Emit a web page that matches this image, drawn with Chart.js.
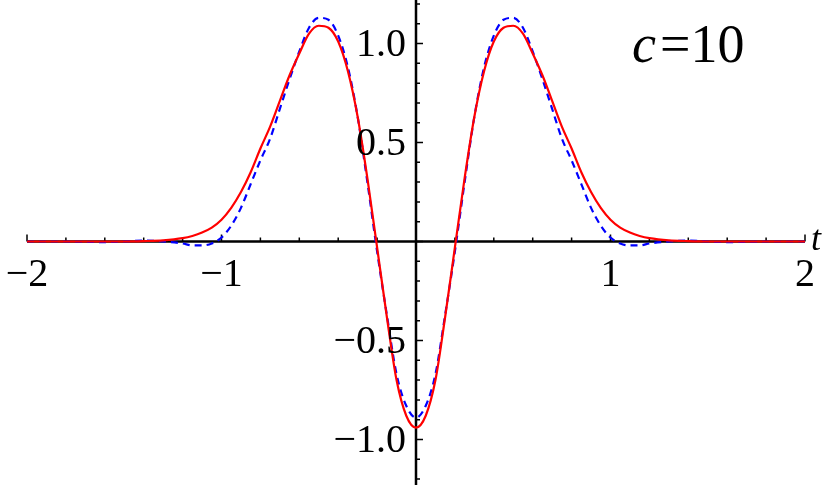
<!DOCTYPE html>
<html>
<head>
<meta charset="utf-8">
<script src="https://cdn.jsdelivr.net/npm/chart.js@4"></script>
<style>
html, body { margin: 0; padding: 0; background: #fff; }
#wrap { width: 830px; height: 485px; }
</style>
</head>
<body>
<div id="wrap"><canvas id="chart" width="830" height="485"></canvas></div>
<script>
const tValues = [-2.0,-1.8,-1.6,-1.5,-1.4,-1.3,-1.2,-1.15,-1.1,-1.05,-1.0,-0.95,-0.9,-0.85,-0.8,-0.75,-0.7,-0.65,-0.6,-0.55,-0.5,-0.45,-0.4,-0.35,-0.3,-0.25,-0.2,-0.15,-0.1,-0.05,
  0,0.05,0.1,0.15,0.2,0.25,0.3,0.35,0.4,0.45,0.5,0.55,0.6,0.65,0.7,0.75,0.8,0.85,0.9,0.95,1.0,1.05,1.1,1.15,1.2,1.3,1.4,1.5,1.6,1.8,2.0];
const redValues = [0,0,0,0,0.002,0.006,0.017,0.028,0.045,0.07,0.11,0.17,0.25,0.35,0.47,0.58,0.71,0.84,0.95,1.05,1.09,1.08,1.01,0.86,0.63,0.32,-0.03,-0.38,-0.70,-0.88,
  -0.94,-0.88,-0.70,-0.38,-0.03,0.32,0.63,0.86,1.01,1.08,1.09,1.05,0.95,0.84,0.71,0.58,0.47,0.35,0.25,0.17,0.11,0.07,0.045,0.028,0.017,0.006,0.002,0,0,0,0];
const blueValues = [0,0,-0.003,0,0.005,0,-0.01,-0.02,-0.02,-0.01,0.02,0.08,0.17,0.29,0.41,0.52,0.67,0.82,0.96,1.08,1.13,1.12,1.04,0.88,0.63,0.30,-0.05,-0.37,-0.67,-0.83,
  -0.89,-0.83,-0.67,-0.37,-0.05,0.30,0.63,0.88,1.04,1.12,1.13,1.08,0.96,0.82,0.67,0.52,0.41,0.29,0.17,0.08,0.02,-0.01,-0.02,-0.02,-0.01,0,0.005,0,-0.003,0,0];
const xTickLabels = [[-2,'\u22122'],[-1,'\u22121'],[1,'1'],[2,'2']];
const yTickLabels = [[1.0,'1.0'],[0.5,'0.5'],[-0.5,'\u22120.5'],[-1.0,'\u22121.0']];

const serif = '"Liberation Serif", "DejaVu Serif", serif';

function pts(ys) {
  return tValues.map((t, i) => ({x: t, y: ys[i]}));
}

// axes through the origin, drawn under the curves
const axesPlugin = {
  id: 'axes',
  beforeDatasetsDraw(chart) {
    const c = chart.ctx;
    const xs = chart.scales.x, ys = chart.scales.y;
    const x0 = xs.getPixelForValue(0), y0 = ys.getPixelForValue(0);
    c.save();
    c.strokeStyle = '#000';
    c.lineWidth = 2.5;
    c.beginPath();
    c.moveTo(xs.getPixelForValue(-2), y0);
    c.lineTo(xs.getPixelForValue(2), y0);
    c.moveTo(x0, chart.chartArea.top);
    c.lineTo(x0, chart.chartArea.bottom);
    c.stroke();
    c.lineWidth = 1.5;
    c.beginPath();
    for (let k = -10; k <= 10; k++) {
      const px = xs.getPixelForValue(k * 0.2);
      const len = (k % 5 === 0) ? 7 : 4;
      c.moveTo(px, y0); c.lineTo(px, y0 - len);
    }
    for (let k = -12; k <= 12; k++) {
      const py = ys.getPixelForValue(k * 0.1);
      const len = (k % 5 === 0) ? 7 : 4;
      c.moveTo(x0, py); c.lineTo(x0 + len, py);
    }
    c.stroke();
    c.restore();
  },
  afterDatasetsDraw(chart) {
    const c = chart.ctx;
    const xs = chart.scales.x, ys = chart.scales.y;
    const x0 = xs.getPixelForValue(0), y0 = ys.getPixelForValue(0);
    c.save();
    c.fillStyle = '#000';
    c.font = '40px ' + serif;
    c.textAlign = 'center';
    c.textBaseline = 'top';
    xTickLabels.forEach(([v, s]) => c.fillText(s, xs.getPixelForValue(v), y0 + 14));
    c.textAlign = 'right';
    c.textBaseline = 'middle';
    yTickLabels.forEach(([v, s]) => c.fillText(s, x0 - 10, ys.getPixelForValue(v) + 2));
    c.font = 'italic 36px ' + serif;
    c.textAlign = 'left';
    c.textBaseline = 'alphabetic';
    c.fillText('t', xs.getPixelForValue(2) + 6, y0 + 8);
    c.font = 'italic 54px ' + serif;
    c.fillText('c', 632, 62);
    c.font = '54px ' + serif;
    c.fillText('=10', 660, 62);
    c.restore();
  }
};

new Chart(document.getElementById('chart'), {
  type: 'scatter',
  data: {
    datasets: [
      { data: pts(redValues), showLine: true, borderColor: '#ff0000', borderWidth: 2.2,
        pointRadius: 0, tension: 0.4, cubicInterpolationMode: 'monotone' },
      { data: pts(blueValues), showLine: true, borderColor: '#0000ff', borderWidth: 2.2,
        borderDash: [7, 5], pointRadius: 0, cubicInterpolationMode: 'monotone' }
    ]
  },
  options: {
    responsive: false,
    animation: false,
    layout: { padding: { left: 27, right: 25, top: 0, bottom: 0 } },
    plugins: { legend: { display: false }, tooltip: { enabled: false } },
    scales: {
      x: { type: 'linear', min: -2, max: 2, display: false },
      y: { type: 'linear', min: -1.23, max: 1.22, display: false }
    }
  },
  plugins: [axesPlugin]
});
</script>
</body>
</html>
